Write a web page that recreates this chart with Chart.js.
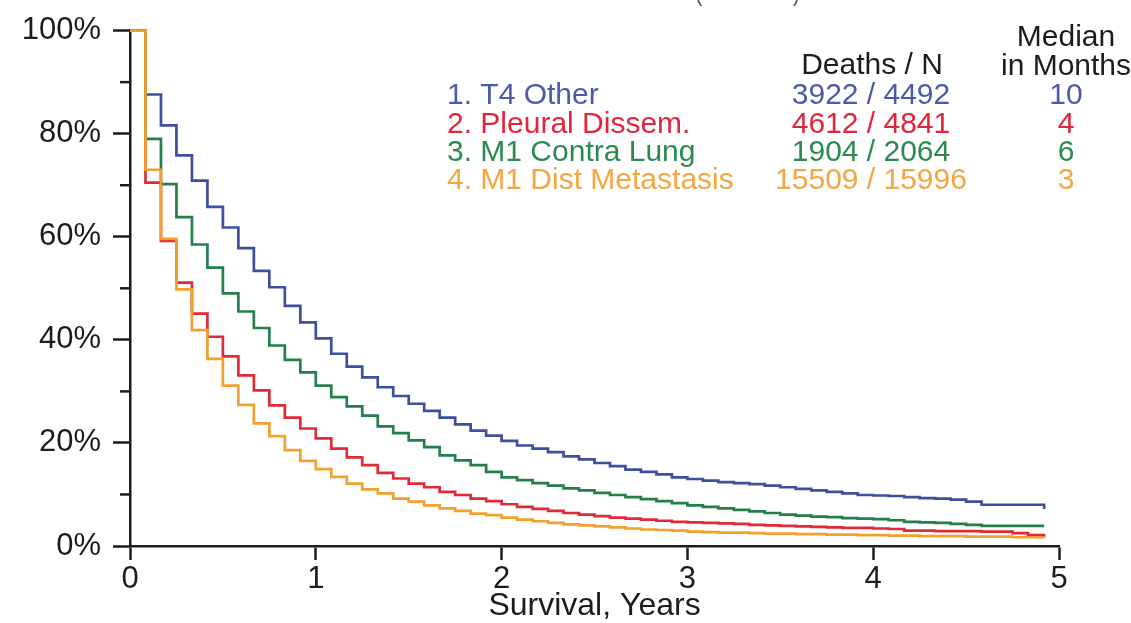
<!DOCTYPE html>
<html>
<head>
<meta charset="utf-8">
<script src="https://cdn.jsdelivr.net/npm/chart.js@4/dist/chart.umd.min.js"></script>
<style>
  html, body { margin: 0; padding: 0; background: #fff; }
  #wrap { width: 1131px; height: 623px; position: relative; }
</style>
</head>
<body>
<div id="wrap"><canvas id="km"></canvas></div>
<script>
// survival at the start of each month (0..58), then the value at the last follow-up
const months = [0, 1, 2, 3, 4, 5, 6, 7, 8, 9, 10, 11, 12, 13, 14, 15, 16, 17, 18, 19,
  20, 21, 22, 23, 24, 25, 26, 27, 28, 29, 30, 31, 32, 33, 34, 35, 36, 37, 38, 39,
  40, 41, 42, 43, 44, 45, 46, 47, 48, 49, 50, 51, 52, 53, 54, 55, 56, 57, 58];
const endYear = 4.92;

const t4Other = [100, 87.6, 81.6, 75.8, 70.9, 65.8, 61.8, 57.8, 53.4, 50.2, 46.6, 43.4, 40.3,
  37.3, 34.8, 32.7, 30.8, 29.1, 27.6, 26.2, 24.9, 23.6, 22.4, 21.4, 20.4,
  19.5, 18.9, 18.2, 17.4, 16.8, 16.1, 15.5, 14.8, 14.4, 13.9, 13.3, 13.0,
  12.7, 12.4, 12.2, 12.0, 11.7, 11.4, 11.1, 10.8, 10.5, 10.2, 9.9, 9.8,
  9.7, 9.5, 9.3, 9.2, 9.0, 8.6, 8.0, 8.0, 8.0, 8.0];
const t4OtherEnd = 7.2;

const pleural = [100, 70.5, 59.2, 51.1, 45.1, 40.6, 36.8, 33.1, 30.2, 27.3, 24.9, 22.8, 20.9,
  18.9, 17.2, 15.7, 14.2, 13.1, 12.1, 11.4, 10.5, 9.9, 9.2, 8.7, 8.1,
  7.6, 7.2, 6.8, 6.4, 6.1, 5.8, 5.5, 5.3, 5.1, 4.9, 4.7, 4.6,
  4.5, 4.4, 4.3, 4.1, 4.0, 3.9, 3.8, 3.7, 3.6, 3.5, 3.5, 3.4,
  3.3, 3.0, 3.0, 2.9, 2.9, 2.9, 2.8, 2.8, 2.5, 2.1];
const pleuralEnd = 1.8;

const contraLung = [100, 79.0, 70.2, 63.8, 58.5, 54.0, 49.0, 45.5, 42.3, 38.9, 36.1, 33.7, 31.1,
  28.9, 27.1, 25.3, 23.2, 21.9, 20.5, 19.2, 17.6, 16.6, 15.7, 14.4, 13.3,
  12.8, 12.2, 11.7, 11.2, 10.8, 10.3, 9.9, 9.5, 9.1, 8.7, 8.3, 7.9,
  7.6, 7.3, 7.0, 6.7, 6.4, 6.1, 5.9, 5.7, 5.6, 5.4, 5.3, 5.2,
  5.0, 4.7, 4.6, 4.5, 4.3, 4.1, 3.9, 3.9, 3.9, 3.9];
const contraLungEnd = 3.9;

const distMet = [100, 73.0, 59.6, 49.8, 41.9, 36.3, 31.1, 27.4, 23.8, 21.3, 18.6, 16.5, 14.9,
  13.4, 12.1, 11.0, 10.2, 9.2, 8.6, 7.9, 7.3, 6.8, 6.3, 6.0, 5.5,
  5.1, 4.8, 4.5, 4.2, 4.0, 3.8, 3.6, 3.4, 3.2, 3.1, 3.0, 2.8,
  2.7, 2.6, 2.6, 2.5, 2.4, 2.4, 2.3, 2.3, 2.2, 2.2, 2.1, 2.1,
  2.0, 2.0, 1.9, 1.9, 1.9, 1.8, 1.8, 1.8, 1.7, 1.7];
const distMetEnd = 1.6;

// legend table
const groupNames = ['1. T4 Other', '2. Pleural Dissem.', '3. M1 Contra Lung', '4. M1 Dist Metastasis'];
const deaths = [3922, 4612, 1904, 15509];
const totals = [4492, 4841, 2064, 15996];
const medians = [10, 4, 6, 3];

const lineColors = ['#3f4f9f', '#e02a3a', '#23804a', '#f4a02e'];
const textColors = ['#4b5ba8', '#e2243c', '#2b8a50', '#f5a640'];

const yTicks = [0, 20, 40, 60, 80, 100];
const yMinorTicks = [10, 30, 50, 70, 90];

const FONT = "'Liberation Sans', Arial, sans-serif";
const INK = '#1c1c1c';

function toPoints(vals, endVal) {
  const pts = months.map((m, i) => ({ x: m / 12, y: vals[i] }));
  pts.push({ x: endYear, y: endVal });
  return pts;
}

const seriesVals = [t4Other, pleural, contraLung, distMet];
const seriesEnds = [t4OtherEnd, pleuralEnd, contraLungEnd, distMetEnd];
const drawOrder = [3, 2, 1, 0];

const datasets = seriesVals.map((v, i) => ({
  label: groupNames[i],
  data: toPoints(v, seriesEnds[i]),
  borderColor: lineColors[i],
  borderWidth: 2.7,
  pointRadius: 0,
  showLine: true,
  stepped: true,
  fill: false,
  clip: 6,
  order: drawOrder[i]
}));

const extras = {
  id: 'extras',
  afterDraw(chart) {
    const ctx = chart.ctx;
    const y = chart.scales.y;
    ctx.save();
    // short minor ticks on the y axis
    ctx.strokeStyle = INK;
    ctx.lineWidth = 2.5;
    yMinorTicks.forEach(v => {
      const py = y.getPixelForValue(v);
      ctx.beginPath();
      ctx.moveTo(y.right - 10, py);
      ctx.lineTo(y.right, py);
      ctx.stroke();
    });

    // clipped remnant of the title
    ctx.fillStyle = '#555';
    ctx.font = '20px ' + FONT;
    ctx.textBaseline = 'alphabetic';
    ctx.textAlign = 'center';
    ctx.fillText('(', 699, 2);
    ctx.fillText(')', 796, 2);

    // legend table
    ctx.font = '30px ' + FONT;
    ctx.textBaseline = 'middle';
    ctx.fillStyle = INK;
    ctx.textAlign = 'center';
    ctx.fillText('Deaths / N', 872, 66);
    ctx.fillText('Median', 1066, 38);
    ctx.fillText('in Months', 1066, 67);
    const rowY = [96, 125, 153, 181];
    groupNames.forEach((name, i) => {
      ctx.fillStyle = textColors[i];
      ctx.textAlign = 'left';
      ctx.fillText(name, 447, rowY[i]);
      ctx.textAlign = 'center';
      ctx.fillText(deaths[i] + ' / ' + totals[i], 871, rowY[i]);
      ctx.fillText(String(medians[i]), 1066, rowY[i]);
    });
    ctx.restore();
  }
};

new Chart(document.getElementById('km'), {
  type: 'scatter',
  data: { datasets },
  options: {
    responsive: true,
    maintainAspectRatio: false,
    animation: false,
    layout: { padding: { top: 29, right: 72, bottom: 0, left: 0 } },
    plugins: {
      legend: { display: false },
      tooltip: { enabled: false }
    },
    scales: {
      x: {
        type: 'linear',
        min: 0,
        max: 5,
        afterFit(scale) { scale.height = 77; },
        border: { color: INK, width: 2.5 },
        grid: { drawOnChartArea: false, drawTicks: true, tickLength: 14, tickColor: INK, tickWidth: 2.5 },
        ticks: { stepSize: 1, color: INK, padding: 1, font: { family: FONT, size: 31 } },
        title: {
          display: true,
          text: 'Survival, Years',
          color: INK,
          padding: { top: 0, bottom: 0 },
          font: { family: FONT, size: 32, lineHeight: 1.05 }
        }
      },
      y: {
        min: 0,
        max: 100,
        afterFit(scale) { scale.width = 130; },
        afterBuildTicks(scale) { scale.ticks = yTicks.map(v => ({ value: v })); },
        border: { color: INK, width: 2.5 },
        grid: { drawOnChartArea: false, drawTicks: true, tickLength: 17, tickColor: INK, tickWidth: 2.5 },
        ticks: {
          color: INK,
          padding: 12,
          font: { family: FONT, size: 31 },
          callback: v => v + '%'
        }
      }
    }
  },
  plugins: [extras]
});
</script>
</body>
</html>
